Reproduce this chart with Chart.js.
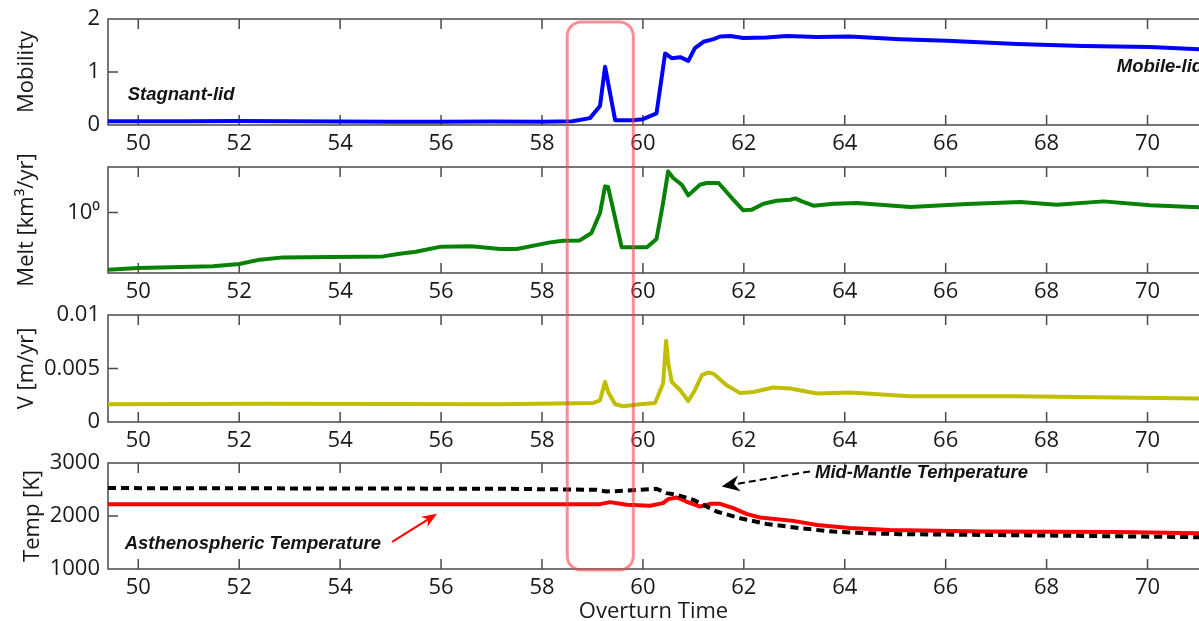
<!DOCTYPE html>
<html>
<head>
<meta charset="utf-8">
<script src="https://cdn.jsdelivr.net/npm/chart.js@4.4.1/dist/chart.umd.min.js"></script>
<style>
html, body { margin: 0; padding: 0; background: #fff; overflow: hidden; }
#figure { position: relative; width: 1199px; height: 621px; }
#figure canvas { position: absolute; left: 0; }
</style>
</head>
<body>
<div id="figure">
	<canvas id="mobilityChart" width="1199" height="148" style="top:9px"></canvas>
	<canvas id="meltChart" width="1199" height="158" style="top:147px"></canvas>
	<canvas id="velocityChart" width="1199" height="149" style="top:305px"></canvas>
	<canvas id="tempChart" width="1199" height="172" style="top:453px"></canvas>
	<canvas id="overlay" width="1199" height="621" style="top:0"></canvas>
</div>
<script>
// overturn time axis
const TIME_MIN = 49.4;
const TIME_MAX = 71.02;
const HIGHLIGHT = [58.5, 59.81];

// plate mobility
const mobilityTime = [49.4, 50, 51, 52, 53, 54, 55, 56, 57, 58, 58.6, 58.95, 59.15, 59.25, 59.45, 59.8, 60.0, 60.27, 60.44, 60.57, 60.74, 60.9, 61.03, 61.2, 61.4, 61.53, 61.73, 61.99, 62.45, 62.85, 63.45, 64.1, 65.1, 66.02, 67.41, 68.73, 70.05, 71.02];
const mobility = [0.07, 0.07, 0.07, 0.075, 0.07, 0.065, 0.06, 0.06, 0.065, 0.06, 0.07, 0.13, 0.36, 1.10, 0.09, 0.09, 0.11, 0.22, 1.35, 1.26, 1.28, 1.21, 1.45, 1.57, 1.62, 1.67, 1.68, 1.64, 1.65, 1.68, 1.66, 1.67, 1.62, 1.59, 1.53, 1.49, 1.47, 1.43];

// melt production, km^3/yr
const meltTime = [49.4, 50, 51.48, 52.0, 52.41, 52.87, 53.86, 54.85, 55.18, 55.5, 56.0, 56.6, 57.17, 57.5, 58.16, 58.42, 58.75, 58.98, 59.15, 59.25, 59.31, 59.58, 60.08, 60.27, 60.4, 60.5, 60.6, 60.77, 60.9, 61.13, 61.26, 61.5, 61.79, 61.99, 62.16, 62.39, 62.65, 62.92, 63.02, 63.15, 63.38, 63.78, 64.24, 65.3, 66.42, 67.48, 68.2, 69.13, 70.05, 71.02];
const melt = [0.113, 0.121, 0.129, 0.141, 0.166, 0.181, 0.184, 0.188, 0.208, 0.224, 0.272, 0.277, 0.249, 0.249, 0.32, 0.341, 0.345, 0.457, 0.977, 2.69, 2.63, 0.265, 0.265, 0.364, 1.43, 4.75, 3.70, 2.86, 1.91, 2.86, 3.05, 3.05, 1.62, 1.08, 1.11, 1.39, 1.56, 1.62, 1.70, 1.52, 1.29, 1.39, 1.43, 1.23, 1.38, 1.48, 1.34, 1.52, 1.31, 1.21];

// surface velocity, m/yr
const velocityTime = [49.4, 52.5, 55, 57.17, 59.02, 59.15, 59.25, 59.31, 59.45, 59.61, 59.94, 60.24, 60.4, 60.46, 60.5, 60.57, 60.74, 60.9, 61.03, 61.17, 61.3, 61.4, 61.66, 61.92, 62.19, 62.58, 62.92, 63.45, 64.1, 65.3, 67.41, 69.39, 71.02];
const velocity = [0.00166, 0.0017, 0.00168, 0.00166, 0.00178, 0.00203, 0.00375, 0.00281, 0.00166, 0.00147, 0.00166, 0.00178, 0.0036, 0.0076, 0.00562, 0.00375, 0.00297, 0.00197, 0.00297, 0.00438, 0.00463, 0.0045, 0.00344, 0.00272, 0.00281, 0.00322, 0.00313, 0.00266, 0.00276, 0.00241, 0.00241, 0.00229, 0.00219];

// temperatures, K
const asthenoTime = [49.4, 57.17, 59.15, 59.35, 59.68, 60.14, 60.4, 60.5, 60.67, 60.86, 61.13, 61.33, 61.53, 61.79, 62.05, 62.32, 62.98, 63.45, 64.1, 64.9, 66.75, 69.39, 71.02];
const asthenoTemp = [2224, 2224, 2224, 2262, 2211, 2192, 2243, 2319, 2349, 2273, 2179, 2230, 2230, 2148, 2041, 1971, 1908, 1832, 1775, 1738, 1706, 1700, 1675];
const mantleTime = [49.4, 57.17, 59.08, 59.28, 59.7, 60.27, 60.47, 60.67, 61.0, 61.46, 61.93, 62.45, 63.11, 63.77, 64.44, 65.1, 66.75, 68.73, 71.02];
const mantleTemp = [2527, 2514, 2495, 2462, 2480, 2514, 2432, 2400, 2305, 2084, 1958, 1851, 1770, 1706, 1675, 1657, 1643, 1624, 1600];

const xTicks = [50, 52, 54, 56, 58, 60, 62, 64, 66, 68, 70];

Chart.defaults.font.family = "'Open Sans', sans-serif";
Chart.defaults.color = '#1a1a1a';

const TICK_FONT = {family: "'Open Sans', sans-serif", size: 22};
const NOTE_FONT = "italic bold 18.5px 'Liberation Sans', Arial, sans-serif";

function toPoints(xs, ys) {
	return xs.map(function(x, i) {
		return {x: x, y: ys[i]};
	});
}

function drawArrow(ctx, x0, y0, x1, y1, color, width, dash, headLen, headHalf) {
	const len = Math.hypot(x1 - x0, y1 - y0);
	const ux = (x1 - x0) / len, uy = (y1 - y0) / len;
	const nx = -uy, ny = ux;
	const notchX = x1 - ux * headLen * 0.7, notchY = y1 - uy * headLen * 0.7;

	ctx.save();
	ctx.strokeStyle = color;
	ctx.fillStyle = color;
	ctx.lineWidth = width;
	ctx.setLineDash(dash);
	ctx.beginPath();
	ctx.moveTo(x0, y0);
	ctx.lineTo(notchX, notchY);
	ctx.stroke();
	ctx.setLineDash([]);
	ctx.beginPath();
	ctx.moveTo(x1, y1);
	ctx.lineTo(x1 - ux * headLen + nx * headHalf, y1 - uy * headLen + ny * headHalf);
	ctx.lineTo(notchX, notchY);
	ctx.lineTo(x1 - ux * headLen - nx * headHalf, y1 - uy * headLen - ny * headHalf);
	ctx.closePath();
	ctx.fill();
	ctx.restore();
}

//Box, inward tick marks and the italic notes of a panel
const panelDecor = {
	id: 'panelDecor',
	beforeDatasetsDraw(chart) {
		const ctx = chart.ctx;
		const area = chart.chartArea;
		const xScale = chart.scales.x;
		const yScale = chart.scales.y;
		const tickLen = 10;

		ctx.save();
		ctx.strokeStyle = '#4a4a4a';
		ctx.lineWidth = 1.5;
		ctx.beginPath();
		ctx.moveTo(area.right + 2, area.top);
		ctx.lineTo(area.left, area.top);
		ctx.lineTo(area.left, area.bottom);
		ctx.lineTo(area.right + 2, area.bottom);
		xScale.ticks.forEach(function(tick) {
			const px = xScale.getPixelForValue(tick.value);
			ctx.moveTo(px, area.bottom);
			ctx.lineTo(px, area.bottom - tickLen);
			ctx.moveTo(px, area.top);
			ctx.lineTo(px, area.top + tickLen);
		});
		yScale.ticks.forEach(function(tick) {
			const py = yScale.getPixelForValue(tick.value);
			ctx.moveTo(area.left, py);
			ctx.lineTo(area.left + tickLen, py);
		});
		ctx.stroke();
		ctx.restore();
	},
	afterDatasetsDraw(chart, args, opts) {
		const ctx = chart.ctx;
		const xScale = chart.scales.x;
		const yScale = chart.scales.y;

		(opts.arrows || []).forEach(function(a) {
			drawArrow(ctx,
				xScale.getPixelForValue(a.from[0]), yScale.getPixelForValue(a.from[1]),
				xScale.getPixelForValue(a.to[0]), yScale.getPixelForValue(a.to[1]),
				a.color, a.width, a.dash || [], a.headLen, a.headHalf);
		});

		ctx.save();
		ctx.font = NOTE_FONT;
		ctx.fillStyle = '#141414';
		ctx.textBaseline = 'alphabetic';
		ctx.textAlign = 'left';
		(opts.texts || []).forEach(function(t) {
			ctx.fillText(t.text, xScale.getPixelForValue(t.x), yScale.getPixelForValue(t.y));
		});
		ctx.restore();
	}
};

function makePanel(canvasId, datasets, yOptions, xHeight, decor, xTitle, padTop) {
	const yAxis = Object.assign({
		grid: {display: false, drawTicks: false},
		border: {display: false},
		afterFit: function(scale) {
			scale.width = 108;
			scale.paddingTop = 0;
			scale.paddingBottom = 0;
		}
	}, yOptions);
	yAxis.ticks = Object.assign({padding: 8, font: TICK_FONT, color: '#1a1a1a'}, yOptions.ticks);
	yAxis.title.font = TICK_FONT;
	yAxis.title.color = '#1a1a1a';

	return new Chart(document.getElementById(canvasId), {
		type: 'line',
		data: {datasets: datasets},
		options: {
			responsive: false,
			animation: false,
			events: [],
			layout: {padding: {top: padTop || 10, left: 0, right: 0, bottom: 0}},
			elements: {
				point: {radius: 0},
				line: {tension: 0, borderWidth: 4, borderJoinStyle: 'round', borderCapStyle: 'round'}
			},
			scales: {
				x: {
					type: 'linear',
					min: TIME_MIN,
					max: TIME_MAX,
					grid: {display: false, drawTicks: false},
					border: {display: false},
					afterBuildTicks: function(scale) {
						scale.ticks = xTicks.map(function(v) {
							return {value: v};
						});
					},
					ticks: {padding: 6, font: TICK_FONT, color: '#1a1a1a', maxRotation: 0, autoSkip: false},
					title: xTitle ? {display: true, text: xTitle, font: TICK_FONT, color: '#1a1a1a', padding: 0} : {display: false},
					afterFit: function(scale) {
						scale.height = xHeight;
						scale.paddingLeft = 0;
						scale.paddingRight = 0;
					}
				},
				y: yAxis
			},
			plugins: {
				legend: {display: false},
				tooltip: {enabled: false},
				panelDecor: decor
			}
		},
		plugins: [panelDecor]
	});
}

const charts = [];

charts.push(makePanel('mobilityChart', [{
	data: toPoints(mobilityTime, mobility),
	borderColor: '#0000ff'
}], {
	type: 'linear', min: 0, max: 2,
	ticks: {stepSize: 1},
	title: {display: true, text: 'Mobility', padding: {top: 13.5}}
}, 32, {
	texts: [
		{text: 'Stagnant-lid', x: 49.79, y: 0.47},
		{text: 'Mobile-lid', x: 69.39, y: 1.0}
	]
}));

charts.push(makePanel('meltChart', [{
	data: toPoints(meltTime, melt),
	borderColor: '#078207'
}], {
	type: 'logarithmic', min: 0.1, max: 5.61,
	afterBuildTicks: function(scale) {
		scale.ticks = [{value: 1}];
	},
	ticks: {
		callback: function() {
			return '10\u2070';
		}
	},
	title: {display: true, text: 'Melt [km\u00b3/yr]', padding: {top: 14}}
}, 32, {}, null, 20));

charts.push(makePanel('velocityChart', [{
	data: toPoints(velocityTime, velocity),
	borderColor: '#bfbf00'
}], {
	type: 'linear', min: 0, max: 0.01,
	afterBuildTicks: function(scale) {
		scale.ticks = [0, 0.005, 0.01].map(function(v) {
			return {value: v};
		});
	},
	ticks: {
		callback: function(value) {
			return String(Number(value.toFixed(3)));
		}
	},
	title: {display: true, text: 'V [m/yr]', padding: {top: 13.5}}
}, 32, {}));

charts.push(makePanel('tempChart', [{
	data: toPoints(mantleTime, mantleTemp),
	borderColor: '#000000',
	borderDash: [8, 5],
	borderCapStyle: 'butt',
	order: 0
}, {
	data: toPoints(asthenoTime, asthenoTemp),
	borderColor: '#ff0000',
	order: 1
}], {
	type: 'linear', min: 1000, max: 3000,
	ticks: {
		stepSize: 1000,
		callback: function(value) {
			return String(value);
		}
	},
	title: {display: true, text: 'Temp [K]', padding: {top: 20}}
}, 56, {
	texts: [
		{text: 'Asthenospheric Temperature', x: 49.73, y: 1373},
		{text: 'Mid-Mantle Temperature', x: 63.41, y: 2716}
	],
	arrows: [
		{from: [55.03, 1511], to: [55.92, 2041], color: '#ff0000', width: 2, headLen: 15, headHalf: 6},
		{from: [63.31, 2841], to: [61.56, 2557], color: '#000000', width: 2, dash: [7, 4], headLen: 18, headHalf: 8}
	]
}, 'Overturn Time'));

//Highlight box spanning all four panels
(function drawHighlight() {
	const ctx = document.getElementById('overlay').getContext('2d');
	const first = charts[0];
	const last = charts[charts.length - 1];
	const x0 = first.scales.x.getPixelForValue(HIGHLIGHT[0]);
	const x1 = first.scales.x.getPixelForValue(HIGHLIGHT[1]);
	const y0 = first.canvas.offsetTop + first.chartArea.top + 3;
	const y1 = last.canvas.offsetTop + last.chartArea.bottom + 1;

	ctx.strokeStyle = 'rgba(240, 70, 80, 0.6)';
	ctx.lineWidth = 3;
	ctx.beginPath();
	ctx.roundRect(x0, y0, x1 - x0, y1 - y0, 14);
	ctx.stroke();
})();
</script>
</body>
</html>
